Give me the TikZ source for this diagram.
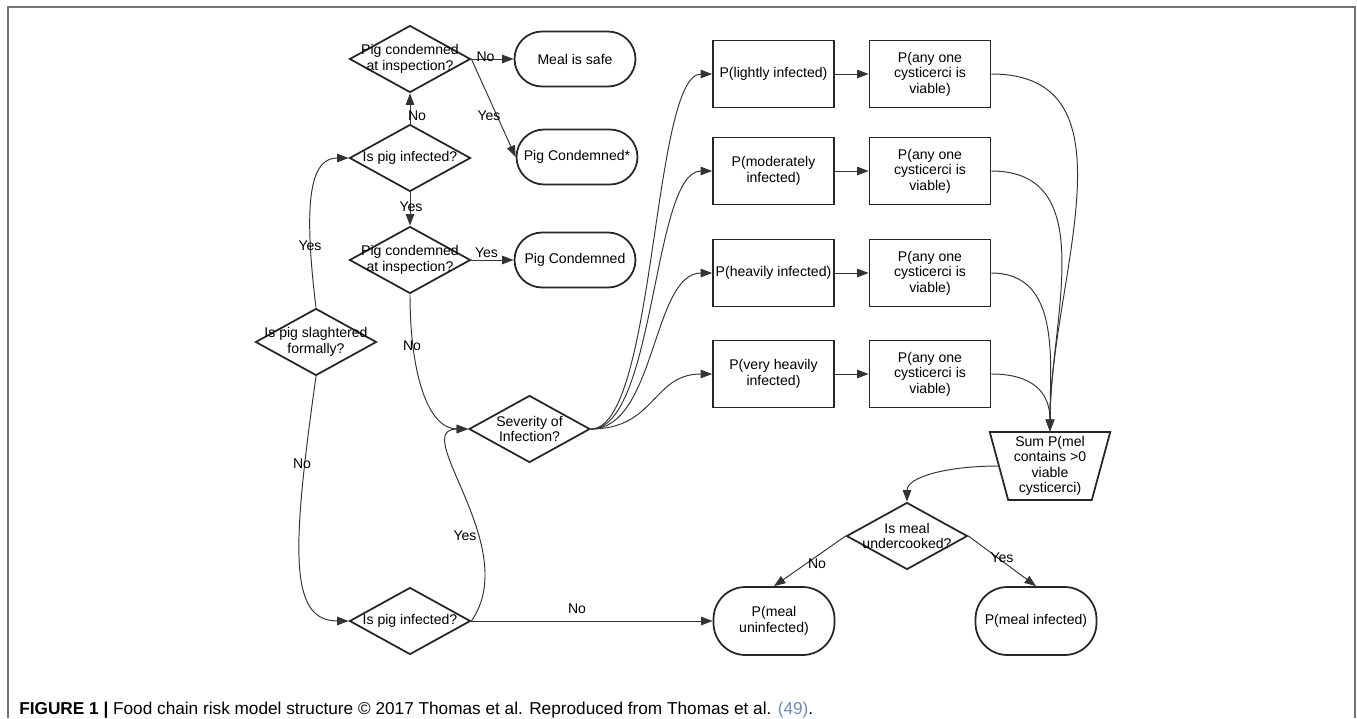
\documentclass[tikz,border=0pt]{standalone}
\usepackage{fontspec}
\setmainfont{Liberation Sans}
\usepackage{xcolor}
\usetikzlibrary{arrows.meta, shapes.geometric}

\definecolor{linkblue}{RGB}{110,140,185}
\newcommand{\boxfont}{\fontsize{8}{8.8}\selectfont}
\newcommand{\capfont}{\fontsize{9.8}{11}\selectfont}

\tikzset{
  shapeline/.style={draw=black!85, line width=1pt},
  decision/.style={shapeline, diamond, minimum width=2.42cm, minimum height=1.34cm, inner sep=0pt,
    label={[align=center, inner sep=0pt]center:#1}},
  probbox/.style={shapeline, rectangle, minimum width=2.42cm, minimum height=1.34cm, align=center, inner sep=1pt},
  terminal/.style={shapeline, rectangle, rounded corners=0.55cm, minimum width=2.42cm, minimum height=1.1cm, align=center},
  outcome/.style={terminal, rounded corners=0.64cm, minimum height=1.36cm},
  sumbox/.style={shapeline, trapezium, trapezium left angle=75, trapezium right angle=75, shape border rotate=180,
    trapezium stretches=true, minimum width=2.42cm, minimum height=1.36cm, align=center, inner sep=0pt},
  conn/.style={draw=black!80, line width=0.55pt, -{Triangle[length=6.5pt, width=4.8pt]}},
  lbl/.style={inner sep=0pt}
}

\begin{document}
\begin{tikzpicture}[x=0.02cm, y=-0.02cm, font=\boxfont]
\useasboundingbox (0,0) rectangle (1357,718);

% Frame
\draw[black!55, line width=1pt] (8,718) -- (8,7) -- (1355,7) -- (1355,718);

% Decisions
\node[decision={Pig condemned\\at inspection?}] (inspA) at (410,59) {};
\node[decision={Is pig infected?}] (infA) at (410,158) {};
\node[decision={Pig condemned\\at inspection?}] (inspB) at (410,260) {};
\node[decision={Is pig slaghtered\\formally?}] (formal) at (316,342) {};
\node[decision={Is pig infected?}] (infB) at (410,621) {};
\node[decision={Severity of\\Infection?}] (severity) at (529.5,429) {};
\node[decision={Is meal\\undercooked?}] (cooked) at (907,536) {};

% End points
\node[terminal] (safe) at (575,59) {Meal is safe};
\node[terminal] (condA) at (577,157) {Pig Condemned*};
\node[terminal] (condB) at (575,260) {Pig Condemned};
\node[outcome] (uninf) at (774,621) {P(meal\\uninfected)};
\node[outcome] (infd) at (1036,621) {P(meal infected)};

% Sum
\node[sumbox] (sum) at (1050,466) {Sum P(mel\\contains >0\\viable\\cysticerci)};

% Severity rows
\foreach \n/\y/\txt in {1/74/{P(lightly infected)}, 2/171/{P(moderately\\infected)}, 3/273/{P(heavily infected)}, 4/374/{P(very heavily\\infected)}} {
  \node[probbox] (sev\n) at (773.5,\y) {\txt};
  \node[probbox] (viable\n) at (930,\y) {P(any one\\cysticerci is\\viable)};
  \draw[conn] (sev\n) -- (viable\n);
  \draw[conn] (severity.east) to[out=0, in=180, out distance=1.3cm, in distance=1.2cm] (sev\n.west);
}
\foreach \n/\d in {1/3, 2/2.2, 3/1.4, 4/0.8}
  \draw[conn] (viable\n.east) to[out=0, in=90, distance=\d cm] (sum.north);

% Connectors
\draw[conn] (inspA.east) -- (safe.west);
\draw[conn] (inspA.east) -- (condA.west);
\draw[conn] (infA.north) -- (inspA.south);
\draw[conn] (infA.south) -- (inspB.north);
\draw[conn] (inspB.east) -- (condB.west);
\draw[conn] (inspB.south) to[out=-90, in=180, out distance=1.6cm, in distance=0.8cm] (severity.west);
\draw[conn] (formal.north) to[out=97, in=180, out distance=2.4cm, in distance=0.7cm] (infA.west);
\draw[conn] (formal.south) to[out=262, in=180, out distance=3.5cm, in distance=1.2cm] (infB.west);
\draw[conn] (infB.east) to[out=55, in=180, out distance=1.8cm, in distance=1.2cm] (severity.west);
\draw[conn] (infB.east) -- (uninf.west);
\draw[conn] (sum.west) to[out=180, in=90, out distance=1cm, in distance=0.5cm] (cooked.north);
\draw[conn] (cooked.west) -- (uninf.north);
\draw[conn] (cooked.east) -- (infd.north);

% Labels
\node[lbl] (noSafe) at (485.5,57) {No};
\node[lbl] (yesCondA) at (489,116) {Yes};
\node[lbl] (noInspA) at (417,116) {No};
\node[lbl] (yesInspB) at (411,207) {Yes};
\node[lbl] (yesCondB) at (486.5,253) {Yes};
\node[lbl] (noSev) at (412,346) {No};
\node[lbl] (yesFormal) at (310,246) {Yes};
\node[lbl] (noFormal) at (302,464) {No};
\node[lbl] (yesSev) at (465,536) {Yes};
\node[lbl] (noUninf) at (577,609) {No};
\node[lbl] (noCooked) at (817,564) {No};
\node[lbl] (yesCooked) at (1002,558) {Yes};

% Caption
\node[anchor=base west, font=\capfont, inner sep=0pt] (caption) at (19,714)
  {\textbf{FIGURE 1 |} Food chain risk model structure © 2017 Thomas et al. Reproduced from Thomas et al. \textcolor{linkblue}{(49)}.};
\end{tikzpicture}
\end{document}
